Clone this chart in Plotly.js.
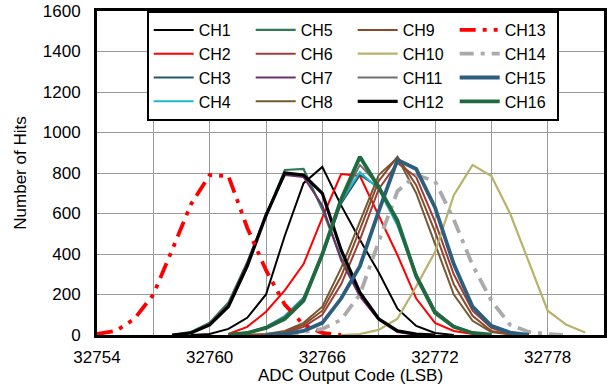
<!DOCTYPE html>
<html>
<head>
<meta charset="utf-8">
<script src="https://cdn.plot.ly/plotly-3.0.1.min.js"></script>
<style>html,body{margin:0;padding:0;background:#fff;}#chart{width:607px;height:385px;}</style>
</head>
<body>
<div id="chart"></div>
<script>
// ---- data ----
var channelNames = ['CH1','CH2','CH3','CH4','CH5','CH6','CH7','CH8','CH9','CH10','CH11','CH12','CH13','CH14','CH15','CH16'];
// first ADC code of each channel's histogram
var startCodes = [32759, 32761, 32761, 32761, 32758, 32762, 32758, 32762, 32762, 32767, 32761, 32758, 32754, 32764, 32763, 32761];
var ch1  = [0, 5, 30, 85, 200, 490, 750, 830, 640, 470, 310, 130, 45, 10, 0];
var ch2  = [5, 40, 115, 220, 350, 580, 795, 785, 590, 395, 180, 60, 20, 5, 0];
var ch3  = [0, 10, 35, 80, 170, 390, 650, 790, 730, 560, 300, 120, 45, 12, 0];
var ch4  = [0, 12, 40, 95, 185, 400, 660, 805, 720, 540, 290, 110, 40, 10, 0];
var ch5  = [0, 15, 60, 160, 360, 590, 815, 820, 620, 380, 200, 80, 20, 3, 0];
var ch6  = [0, 2, 10, 40, 100, 250, 470, 720, 850, 780, 560, 300, 120, 35, 5, 0];
var ch7  = [0, 10, 55, 150, 355, 600, 790, 780, 640, 370, 190, 75, 15, 0];
var ch8  = [0, 5, 20, 60, 140, 330, 560, 790, 875, 700, 450, 200, 70, 15, 3, 0];
var ch9  = [0, 3, 15, 50, 120, 290, 520, 760, 880, 740, 510, 250, 95, 20, 3, 0];
var ch10 = [0, 5, 25, 80, 240, 410, 690, 840, 785, 600, 360, 120, 50, 12];
var ch11 = [0, 10, 40, 90, 180, 400, 660, 840, 740, 550, 300, 120, 40, 10, 0];
var ch12 = [0, 10, 50, 140, 340, 590, 800, 790, 700, 420, 210, 80, 20, 5, 0];
var ch13 = [5, 20, 80, 200, 420, 645, 790, 785, 530, 320, 150, 50, 10, 0];
var ch14 = [0, 15, 30, 75, 200, 460, 710, 790, 760, 570, 345, 170, 50, 15, 5, 0];
var ch15 = [0, 5, 20, 60, 180, 340, 610, 865, 820, 630, 350, 140, 45, 12, 0];
var ch16 = [0, 10, 35, 80, 170, 400, 670, 880, 730, 565, 290, 110, 40, 10, 2];
var xTickVals = [32754, 32757, 32760, 32763, 32766, 32769, 32772, 32775, 32778, 32781];
var xTickText = ['32754', '', '32760', '', '32766', '', '32772', '', '32778', ''];
var yTickVals = [0, 200, 400, 600, 800, 1000, 1200, 1400, 1600];

// ---- styling ----
var allValues = [ch1, ch2, ch3, ch4, ch5, ch6, ch7, ch8, ch9, ch10, ch11, ch12, ch13, ch14, ch15, ch16];
var colors = ['#000000', '#ff0000', '#215a6b', '#1ab9d2', '#2f7a58', '#9e3c3c', '#6e2f6c', '#735a35',
              '#8c4a26', '#b8b26c', '#6e6e6e', '#000000', '#ff0000', '#aaaaaa', '#2c5e7d', '#21693e'];
var widths = [2, 2, 2, 2, 2.2, 2, 2, 2, 2, 2.2, 2, 3.2, 3.8, 3.8, 3.8, 3.8];
var dashes = ['solid', 'solid', 'solid', 'solid', 'solid', 'solid', 'solid', 'solid', 'solid', 'solid',
              'solid', 'solid', '16px,7px,4px,7px,4px,7px', '14px,7px,4px,7px', 'solid', 'solid'];

var traces = [];
for (var k = 0; k < channelNames.length; k++) {
  var xs = [];
  for (var i = 0; i < allValues[k].length; i++) xs.push(startCodes[k] + i);
  var col = Math.floor(k / 4), row = k % 4;
  traces.push({
    type: 'scatter', mode: 'lines', name: channelNames[k],
    x: xs, y: allValues[k],
    line: {color: colors[k], width: widths[k], dash: dashes[k]},
    legendrank: row * 4 + col + 1
  });
}

var font = {family: '"Liberation Sans", Arial, sans-serif', color: '#000', size: 17};
var layout = {
  width: 607, height: 385,
  margin: {l: 97, r: 3, t: 11, b: 50},
  paper_bgcolor: '#fff', plot_bgcolor: '#fff',
  font: font,
  showlegend: true,
  legend: {
    orientation: 'h', x: 0.098, y: 1, xanchor: 'left', yanchor: 'top',
    bgcolor: '#fff', bordercolor: '#000', borderwidth: 2,
    font: {family: font.family, size: 16, color: '#000'},
    itemwidth: 40, entrywidth: 47, traceorder: 'normal'
  },
  xaxis: {
    range: [32754, 32781], tickmode: 'array', tickvals: xTickVals, ticktext: xTickText,
    showgrid: true, gridcolor: '#9a9a9a', gridwidth: 1,
    showline: true, linecolor: '#000', linewidth: 3, mirror: true,
    ticks: '', ticklabelstandoff: 5, zeroline: false,
    title: {text: 'ADC Output Code (LSB)', font: {size: 17}, standoff: 2}
  },
  yaxis: {
    range: [0, 1600], tickmode: 'array', tickvals: yTickVals,
    showgrid: true, gridcolor: '#9a9a9a', gridwidth: 1,
    showline: true, linecolor: '#000', linewidth: 3, mirror: true,
    ticks: '', ticklabelstandoff: 10, zeroline: false,
    title: {text: 'Number of Hits', font: {size: 17}, standoff: 12}
  }
};

Plotly.newPlot('chart', traces, layout, {displayModeBar: false, staticPlot: true});
</script>
</body>
</html>
